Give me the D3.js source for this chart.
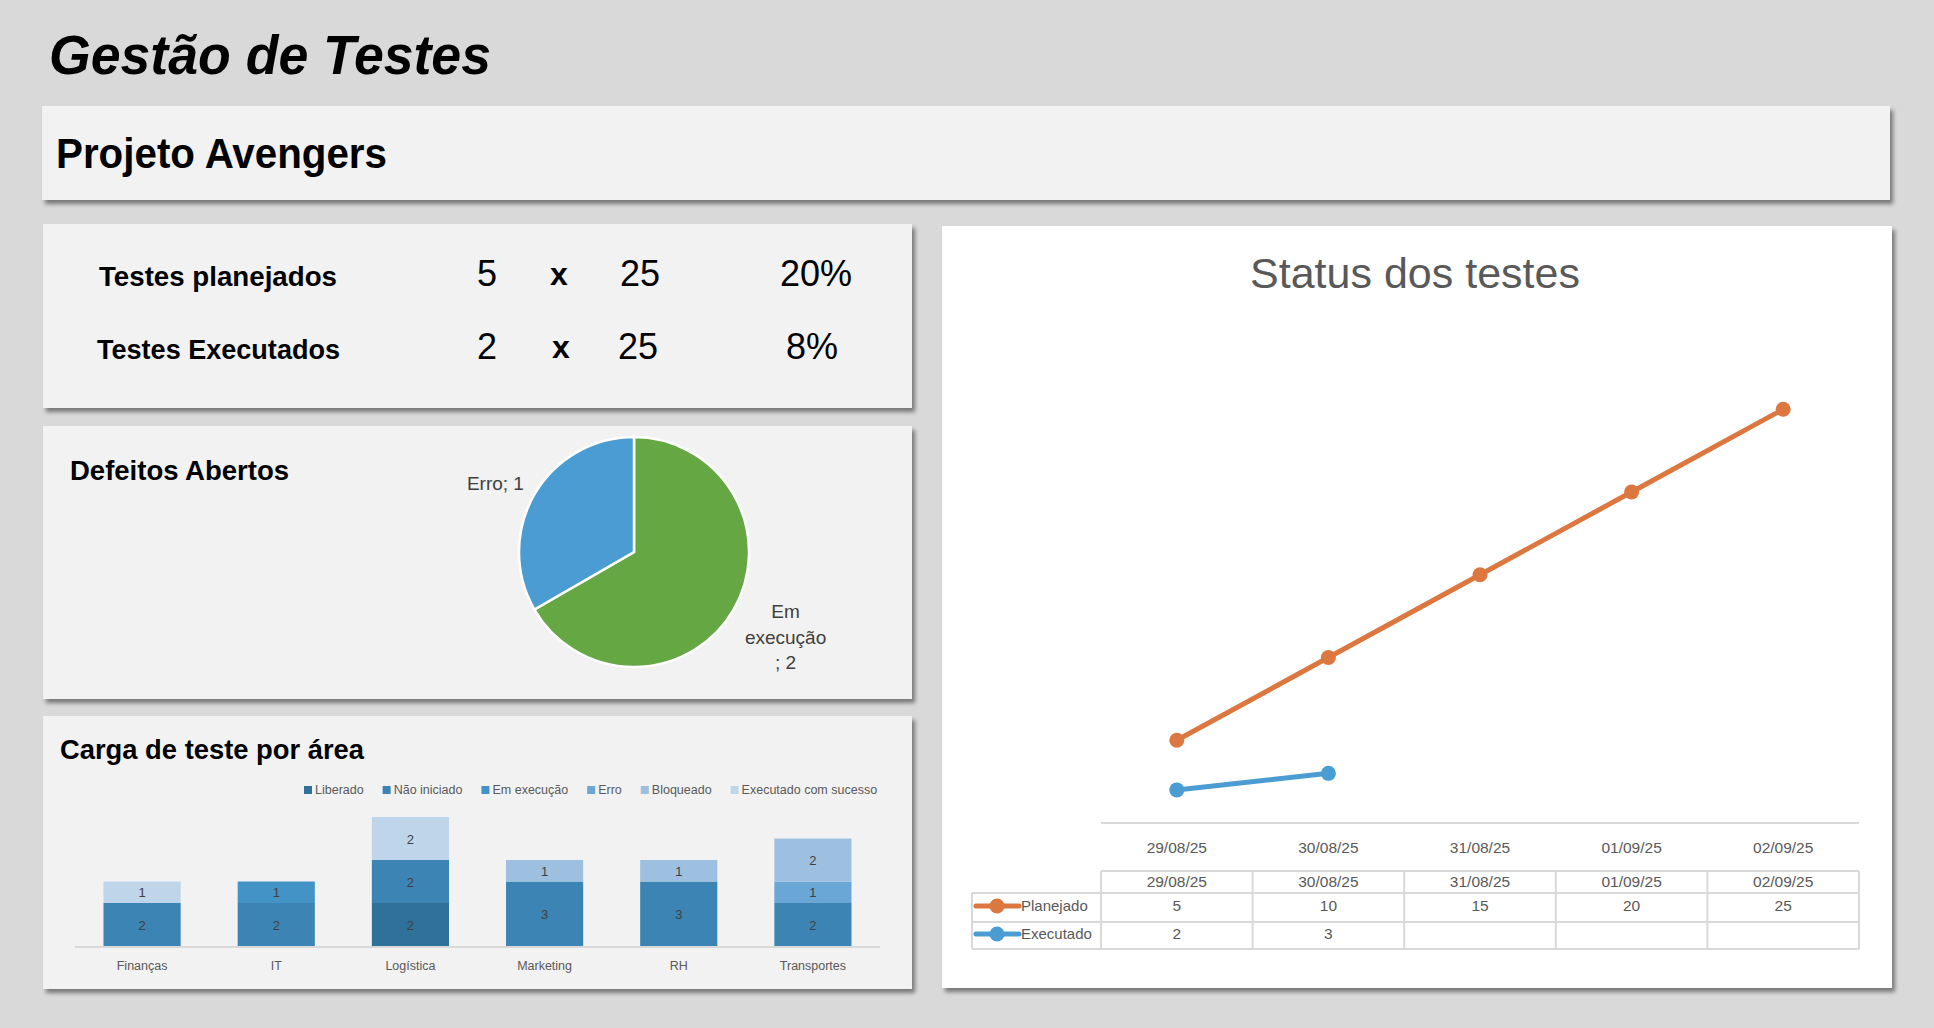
<!DOCTYPE html>
<html lang="pt-BR">
<head>
<meta charset="utf-8">
<title>Gestão de Testes</title>
<script src="https://d3js.org/d3.v7.min.js"></script>
<style>
  body, html { margin: 0; padding: 0; background: #d9d9d9; }
  svg { display: block; font-family: "Liberation Sans", Arial, sans-serif; }
</style>
</head>
<body>
<div id="canvas"></div>
<script>
// ---- dados ----
const cardLabels = ["Testes planejados", "Testes Executados"];
const cardDone = [5, 2];
const cardTotal = [25, 25];

const pieCategories = ["Em execução", "Erro"];
const pieValues = [2, 1];

const areas = ["Finanças", "IT", "Logística", "Marketing", "RH", "Transportes"];
const statuses = ["Liberado", "Não iniciado", "Em execução", "Erro", "Bloqueado", "Executado com sucesso"];
const liberado         = [0, 0, 2, 0, 0, 0];
const naoIniciado      = [2, 2, 2, 3, 3, 2];
const emExecucao       = [0, 1, 0, 0, 0, 0];
const erro             = [0, 0, 0, 0, 0, 1];
const bloqueado        = [0, 0, 0, 1, 1, 2];
const executadoSucesso = [1, 0, 2, 0, 0, 0];

const dates = ["29/08/25", "30/08/25", "31/08/25", "01/09/25", "02/09/25"];
const planejado = [5, 10, 15, 20, 25];
const executado = [2, 3, null, null, null];

// ---- cores ----
const statusColors = ["#30719a", "#3b84b3", "#4393c7", "#6aa7d6", "#9dc0e0", "#bfd5ea"];
const pieColors = ["#64a743", "#4a9cd2"];
const orange = "#dc773f", blue = "#4a9cd2";
const grid = "#d9d9d9", textGray = "#595959";

const W = 1934, H = 1028;
const svg = d3.select("#canvas").append("svg")
    .attr("width", W).attr("height", H);

// sombra dos painéis
const f = svg.append("defs").append("filter").attr("id", "shadow")
    .attr("x", "-5%").attr("y", "-5%").attr("width", "115%").attr("height", "120%");
f.append("feDropShadow").attr("dx", 3).attr("dy", 4).attr("stdDeviation", 2.2)
    .attr("flood-color", "#000").attr("flood-opacity", 0.45);

svg.append("rect").attr("width", W).attr("height", H).attr("fill", "#d9d9d9");

function panel(x, y, w, h, fill) {
    svg.append("rect").attr("x", x).attr("y", y).attr("width", w).attr("height", h)
        .attr("fill", fill).attr("filter", "url(#shadow)");
}

// título
svg.append("text").text("Gestão de Testes")
    .attr("x", 49).attr("y", 74)
    .attr("font-size", 56).attr("font-weight", "bold").attr("font-style", "italic")
    .attr("textLength", 442).attr("lengthAdjust", "spacingAndGlyphs");

// faixa do projeto
panel(42, 106, 1848, 94, "#f2f2f2");
svg.append("text").text("Projeto Avengers")
    .attr("x", 56).attr("y", 168)
    .attr("font-size", 42).attr("font-weight", "bold")
    .attr("textLength", 331).attr("lengthAdjust", "spacingAndGlyphs");

// ---- cartão de contagem ----
panel(43, 224, 869, 184, "#f2f2f2");
const rowY = [286, 359];
cardLabels.forEach((lab, i) => {
    svg.append("text").text(lab)
        .attr("x", i == 0 ? 99 : 97).attr("y", rowY[i])
        .attr("font-size", 27).attr("font-weight", "bold")
        .attr("textLength", i == 0 ? 238 : 243).attr("lengthAdjust", "spacingAndGlyphs");
    svg.append("text").text(cardDone[i])
        .attr("x", 487).attr("y", rowY[i]).attr("text-anchor", "middle").attr("font-size", 36);
    svg.append("text").text("x")
        .attr("x", i == 0 ? 559 : 561).attr("y", rowY[i] - 1).attr("text-anchor", "middle")
        .attr("font-size", 32).attr("font-weight", "bold");
    svg.append("text").text(cardTotal[i])
        .attr("x", i == 0 ? 640 : 638).attr("y", rowY[i]).attr("text-anchor", "middle").attr("font-size", 36);
    svg.append("text").text(Math.round(cardDone[i] / cardTotal[i] * 100) + "%")
        .attr("x", i == 0 ? 816 : 812).attr("y", rowY[i]).attr("text-anchor", "middle").attr("font-size", 36);
});

// ---- pizza de defeitos ----
panel(43, 426, 869, 273, "#f2f2f2");
svg.append("text").text("Defeitos Abertos")
    .attr("x", 70).attr("y", 480)
    .attr("font-size", 28).attr("font-weight", "bold")
    .attr("textLength", 219).attr("lengthAdjust", "spacingAndGlyphs");

const pieR = 115;
const pieG = svg.append("g").attr("transform", "translate(634,552)");
const pie = d3.pie().sort(null)(pieValues);
const arc = d3.arc().innerRadius(0).outerRadius(pieR);
pieG.selectAll("path").data(pie).enter().append("path")
    .attr("d", arc)
    .attr("fill", (d, i) => pieColors[i])
    .attr("stroke", "#fff").attr("stroke-width", 2.5);

// rótulos da pizza
const lblErro = d3.arc().innerRadius(160).outerRadius(160).centroid(pie[1]);
pieG.append("text").text(pieCategories[1] + "; " + pieValues[1])
    .attr("x", lblErro[0]).attr("y", lblErro[1] + 18)
    .attr("text-anchor", "middle").attr("font-size", 19).attr("fill", "#404040");
const lblEm = d3.arc().innerRadius(175).outerRadius(175).centroid(pie[0]);
const emLines = ["Em", "execução", "; " + pieValues[0]];
emLines.forEach((t, k) => {
    pieG.append("text").text(t)
        .attr("x", lblEm[0]).attr("y", lblEm[1] - 21.5 + k * 25.5)
        .attr("text-anchor", "middle").attr("font-size", 19).attr("fill", "#404040");
});

// ---- barras empilhadas ----
panel(43, 716, 869, 273, "#f2f2f2");
svg.append("text").text("Carga de teste por área")
    .attr("x", 60).attr("y", 759)
    .attr("font-size", 27).attr("font-weight", "bold")
    .attr("textLength", 304).attr("lengthAdjust", "spacingAndGlyphs");

const seriesArrays = [liberado, naoIniciado, emExecucao, erro, bloqueado, executadoSucesso];
const barRows = areas.map((a, i) => {
    const r = { area: a };
    statuses.forEach((s, k) => r[s] = seriesArrays[k][i]);
    return r;
});
const stack = d3.stack().keys(statuses)(barRows);

const xBar = d3.scaleBand().domain(areas).range([75, 880]).paddingInner(0.425).paddingOuter(0.2125);
const yBar = d3.scaleLinear().domain([0, 7]).range([946, 946 - 7 * 21.5]);

const layers = svg.append("g").selectAll("g").data(stack).enter().append("g")
    .attr("fill", (d, i) => statusColors[i]);
layers.selectAll("rect").data(d => d.filter(s => s[1] - s[0] > 0)).enter().append("rect")
    .attr("x", d => xBar(d.data.area))
    .attr("y", d => yBar(d[1]))
    .attr("width", xBar.bandwidth())
    .attr("height", d => yBar(d[0]) - yBar(d[1]));
layers.selectAll("text").data(d => d.filter(s => s[1] - s[0] > 0)).enter().append("text")
    .attr("x", d => xBar(d.data.area) + xBar.bandwidth() / 2)
    .attr("y", d => (yBar(d[0]) + yBar(d[1])) / 2 + 5)
    .attr("text-anchor", "middle").attr("font-size", 13).attr("fill", "#404040")
    .text(d => d[1] - d[0]);

const xAxisBar = svg.append("g").attr("transform", "translate(0,947)")
    .call(d3.axisBottom(xBar).tickSize(0).tickPadding(14));
xAxisBar.select(".domain").attr("stroke", grid).attr("stroke-width", 2).attr("d", "M75,0H880");
xAxisBar.selectAll("text").attr("font-size", 12.5).attr("fill", textGray)
    .attr("font-family", "'Liberation Sans', Arial, sans-serif");

// legenda das barras
let lx = 304;
statuses.forEach((s, i) => {
    svg.append("rect").attr("x", lx).attr("y", 786).attr("width", 8).attr("height", 8)
        .attr("fill", statusColors[i]);
    const t = svg.append("text").text(s).attr("x", lx + 11).attr("y", 794)
        .attr("font-size", 12.5).attr("fill", textGray);
    lx += 11 + t.node().getComputedTextLength() + 19;
});

// ---- linha: status dos testes ----
panel(942, 226, 950, 762, "#ffffff");
svg.append("text").text("Status dos testes")
    .attr("x", 1415).attr("y", 288).attr("text-anchor", "middle")
    .attr("font-size", 43).attr("fill", textGray);

const xLine = d3.scaleBand().domain(dates).range([1101, 1859]);
const yLine = d3.scaleLinear().domain([0, 30]).range([823, 823 - 30 * 16.55]);
const cx = d => xLine(d) + xLine.bandwidth() / 2;

const xAxisLine = svg.append("g").attr("transform", "translate(0,823)")
    .call(d3.axisBottom(xLine).tickSize(0).tickPadding(19));
xAxisLine.select(".domain").attr("stroke", grid).attr("stroke-width", 2).attr("d", "M1101,0H1859");
xAxisLine.selectAll("text").attr("font-size", 15.5).attr("fill", textGray)
    .attr("font-family", "'Liberation Sans', Arial, sans-serif");

const lineSeries = [
    { name: "Planejado", values: planejado, color: orange },
    { name: "Executado", values: executado, color: blue }
];
const line = d3.line().defined(d => d.v != null).x(d => cx(d.date)).y(d => yLine(d.v));
lineSeries.forEach(s => {
    const pts = dates.map((d, i) => ({ date: d, v: s.values[i] }));
    svg.append("path").datum(pts).attr("d", line)
        .attr("fill", "none").attr("stroke", s.color).attr("stroke-width", 5)
        .attr("stroke-linecap", "round");
    svg.append("g").selectAll("circle").data(pts.filter(p => p.v != null)).enter().append("circle")
        .attr("cx", p => cx(p.date)).attr("cy", p => yLine(p.v)).attr("r", 7.5)
        .attr("fill", s.color);
});

// tabela de dados
const tbl = svg.append("g").attr("stroke", grid).attr("stroke-width", 2).attr("fill", "none");
tbl.append("path").attr("d", `M1101,871H1859`);
tbl.append("path").attr("d", `M972,893H1859M972,922H1859M972,949H1859`);
tbl.append("path").attr("d", `M972,893V949`);
dates.forEach(d => tbl.append("path").attr("d", `M${xLine(d)},871V949`));
tbl.append("path").attr("d", `M1859,871V949`);

const cellText = (t, x, y, anchor) => svg.append("text").text(t)
    .attr("x", x).attr("y", y).attr("text-anchor", anchor || "middle")
    .attr("font-size", 15.5).attr("fill", textGray);
dates.forEach(d => cellText(d, cx(d), 887));
const rowBase = [911, 939];
lineSeries.forEach((s, k) => {
    const ky = rowBase[k] - 5;
    svg.append("line").attr("x1", 976).attr("x2", 1019).attr("y1", ky).attr("y2", ky)
        .attr("stroke", s.color).attr("stroke-width", 5).attr("stroke-linecap", "round");
    svg.append("circle").attr("cx", 997).attr("cy", ky).attr("r", 7.5).attr("fill", s.color);
    cellText(s.name, 1021, rowBase[k], "start").attr("font-size", 15);
    dates.forEach((d, i) => {
        if (s.values[i] != null) cellText(s.values[i], cx(d), rowBase[k]);
    });
});
</script>
</body>
</html>
